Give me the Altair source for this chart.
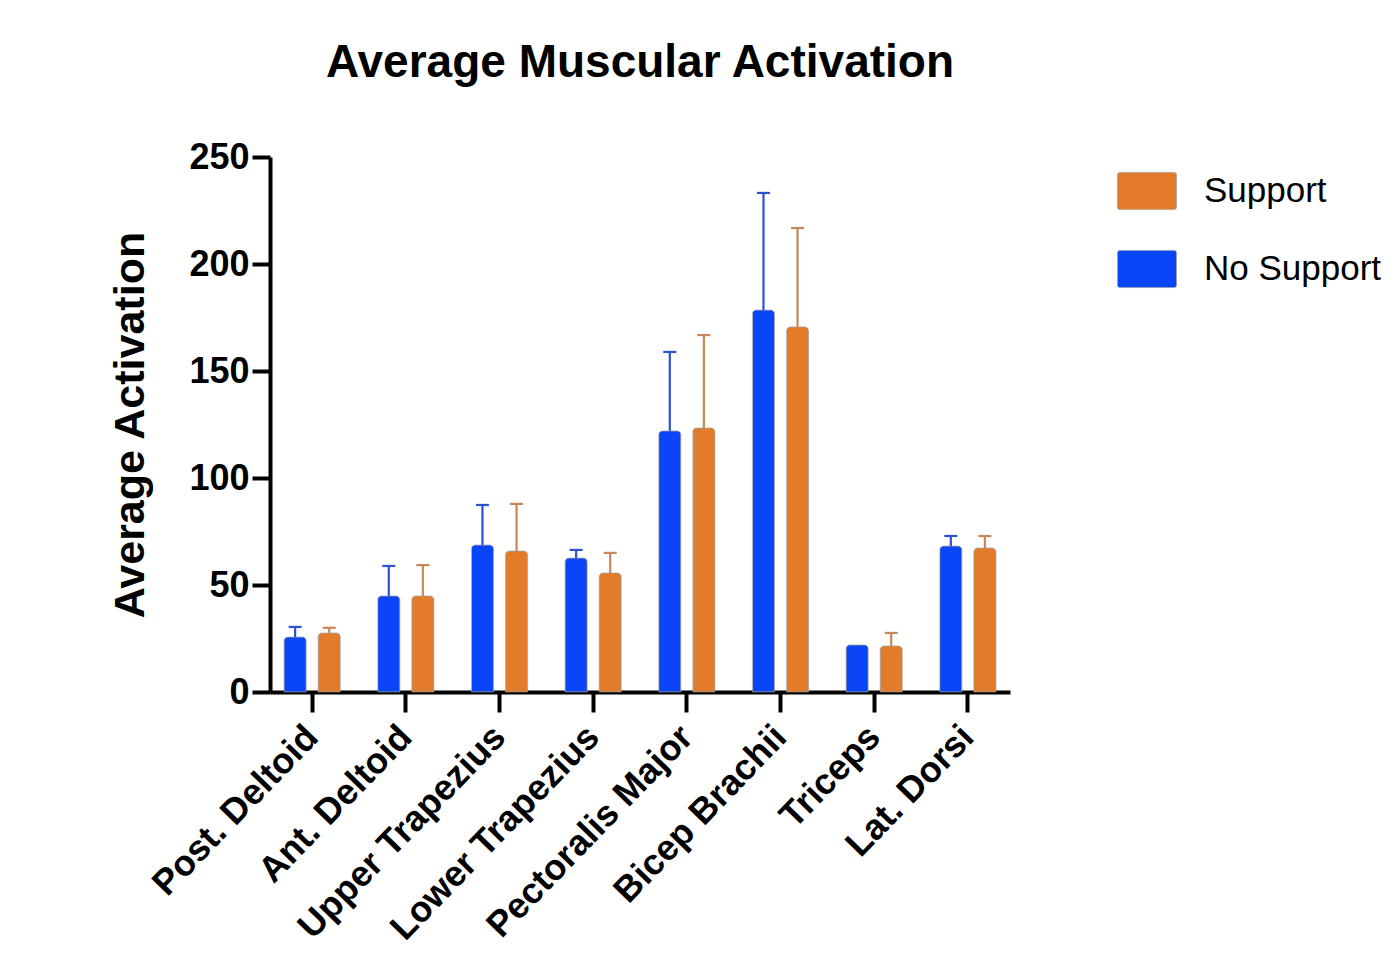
import altair as alt
import pandas as pd

muscles = ["Post. Deltoid", "Ant. Deltoid", "Upper Trapezius", "Lower Trapezius",
           "Pectoralis Major", "Bicep Brachii", "Triceps", "Lat. Dorsi"]
no_support_mean = [25.7, 44.9, 68.7, 62.6, 122.0, 178.5, 22.0, 68.2]
no_support_err = [4.7, 14.0, 18.7, 3.8, 36.9, 54.7, 0.0, 4.7]
support_mean = [27.6, 44.9, 65.9, 55.6, 123.4, 170.6, 21.5, 67.3]
support_err = [2.4, 14.4, 22.0, 9.4, 43.4, 46.2, 6.1, 5.6]
groups = ["Support", "No Support"]

rows = []
for i, m in enumerate(muscles):
    rows.append({"muscle": m, "group": "No Support", "mean": no_support_mean[i],
                 "upper": no_support_mean[i] + no_support_err[i], "err": no_support_err[i]})
    rows.append({"muscle": m, "group": "Support", "mean": support_mean[i],
                 "upper": support_mean[i] + support_err[i], "err": support_err[i]})
df = pd.DataFrame(rows)

FONT = "Liberation Sans"
bar_colors = ["#E27C2B", "#0A46F7"]
err_colors = ["#C8875A", "#2A52D2"]

x = alt.X("muscle:N", sort=muscles, title=None,
          scale=alt.Scale(paddingInner=0.4, paddingOuter=0.15),
          axis=alt.Axis(labelAngle=-46, labelFont=FONT, labelFontSize=36,
                        labelFontWeight="bold", labelColor="black",
                        labelAlign="right", labelBaseline="middle",
                        domainColor="black", domainWidth=4,
                        tickColor="black", tickWidth=4, tickSize=20,
                        labelPadding=19, labelLimit=600))
xo = alt.XOffset("group:N", sort=["No Support", "Support"],
                 scale=alt.Scale(paddingInner=0.35, paddingOuter=0))

bars = alt.Chart(df).mark_bar(cornerRadiusTopLeft=4, cornerRadiusTopRight=4,
                              stroke="#9a9a9a", strokeWidth=0.6).encode(
    x=x,
    xOffset=xo,
    y=alt.Y("mean:Q", title="Average Activation",
            scale=alt.Scale(domain=[0, 250], nice=False),
            axis=alt.Axis(values=[0, 50, 100, 150, 200, 250], grid=False,
                          labelFont=FONT, labelFontSize=36, labelFontWeight="bold",
                          labelColor="black", labelPadding=3,
                          titleFont=FONT, titleFontSize=43, titleFontWeight="bold",
                          titleColor="black", titlePadding=36,
                          domainColor="black", domainWidth=4,
                          tickColor="black", tickWidth=4, tickSize=18)),
    color=alt.Color("group:N", scale=alt.Scale(domain=groups, range=bar_colors),
                    legend=alt.Legend(title=None, orient="none", legendX=847, legendY=4,
                                      labelFont=FONT, labelFontSize=35, labelColor="black",
                                      labelLimit=500,
                                      symbolType="M-1,-0.55Q-1,-0.63,-0.92,-0.63L0.92,-0.63Q1,-0.63,1,-0.55L1,0.55Q1,0.63,0.92,0.63L-0.92,0.63Q-1,0.63,-1,0.55Z",
                                      symbolSize=3481, symbolStrokeColor="#9a9a9a",
                                      symbolStrokeWidth=0.6, symbolOpacity=1,
                                      labelOffset=27, rowPadding=28)),
)

err_base = alt.Chart(df).transform_filter("datum.err > 0")
rules = err_base.mark_rule(strokeWidth=2.2).encode(
    x=x, xOffset=xo,
    y="mean:Q", y2="upper:Q",
    color=alt.Color("group:N", scale=alt.Scale(domain=groups, range=err_colors), legend=None),
)
caps = err_base.mark_tick(size=13, thickness=2.2, opacity=1).encode(
    x=x, xOffset=xo,
    y="upper:Q",
    color=alt.Color("group:N", scale=alt.Scale(domain=groups, range=err_colors), legend=None),
)

chart = alt.layer(bars, rules, caps).resolve_scale(color="independent").properties(
    width=740, height=535,
    background="white",
    title=alt.TitleParams("Average Muscular Activation", font=FONT, fontSize=46,
                          fontWeight="bold", color="black", anchor="middle", offset=52),
    autosize=alt.AutoSizeParams(type="none"),
    padding={"left": 262, "top": 149, "right": 378, "bottom": 271},
).configure_view(strokeWidth=0, stroke="transparent")

chart.save("out.html", embed_options={"renderer": "svg", "actions": False})
